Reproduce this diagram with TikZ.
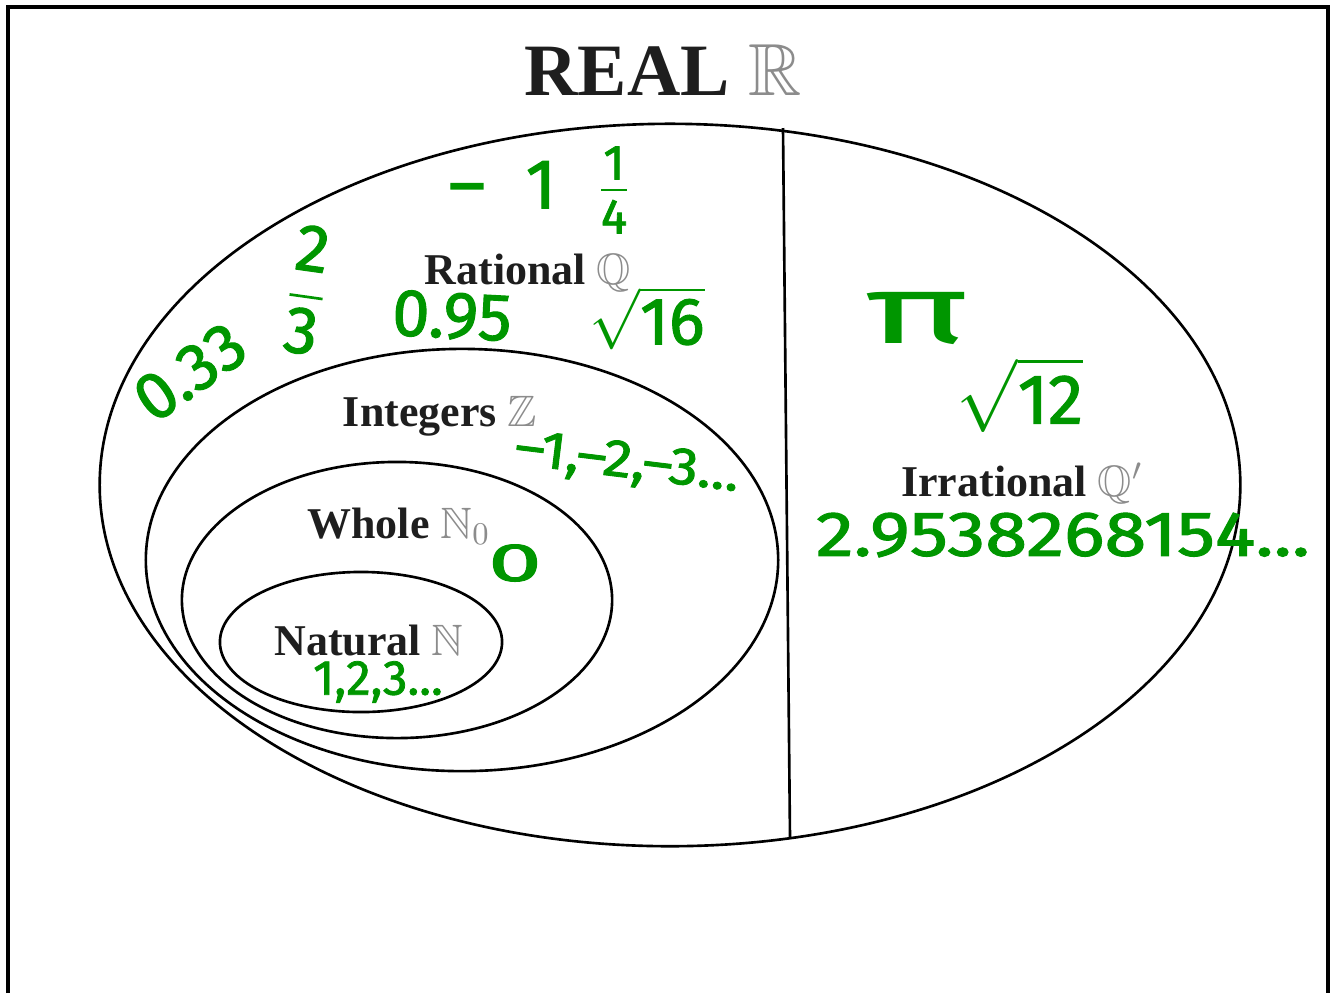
\documentclass[tikz,border=0pt]{standalone}
\usepackage{amsmath,amssymb}
\usepackage{fontspec}
\setmainfont{Liberation Serif}
\newfontfamily\hwfont[FakeBold=1.6]{Fira Sans}
\newfontfamily\hwthin{Fira Sans}
\definecolor{hgreen}{RGB}{0,150,0}
\definecolor{lbl}{RGB}{30,30,30}
\definecolor{sym}{RGB}{140,140,140}
\tikzset{
  setline/.style={draw=black, line width=0.75pt},
  framel/.style={draw=black, line width=0.9pt},
  lab/.style={text=lbl, font=\bfseries\fontsize{12.5}{13}\selectfont, anchor=base, inner sep=0pt},
  hw/.style={text=hgreen, font=\hwfont\fontsize{17}{17}\selectfont, inner sep=0pt},
}
\newcommand{\sy}[1]{\textcolor{sym}{$#1$}}
\begin{document}
\begin{tikzpicture}[x=0.01cm,y=-0.01cm]
\useasboundingbox (0,0) rectangle (1336,993);
% frame
\draw[framel] (8,993) -- (8,7) -- (1328,7) -- (1328,993);
% ellipses
\draw[setline] (670,485) ellipse [x radius=5.70cm, y radius=3.61cm];
\draw[setline] (462,560) ellipse [x radius=3.16cm, y radius=2.11cm];
\draw[setline] (397,600) ellipse [x radius=2.15cm, y radius=1.38cm];
\draw[setline] (361,642) ellipse [x radius=1.41cm, y radius=0.70cm];
% divider
\coordinate (dtop) at (783,128);
\coordinate (dbot) at (790,838);
\draw[setline] (dtop) -- (dbot);
% labels
\node[lab, font=\bfseries\fontsize{21}{22}\selectfont] (real) at (663,95) {REAL \sy{\mathbb{R}}};
\node[lab] (rat) at (528,284) {Rational \sy{\mathbb{Q}}};
\node[lab] (int) at (440,426) {Integers \sy{\mathbb{Z}}};
\node[lab] (who) at (399,538) {Whole \sy{\mathbb{N}_0}};
\node[lab] (nat) at (369,655) {Natural \sy{\mathbb{N}}};
\node[lab] (irr) at (1022,496) {Irrational \sy{\mathbb{Q}'}};
% handwriting
\node[hw, font=\hwfont\fontsize{20}{20}\selectfont] (h1) at (540,190) {$\text{–}\;\;\text{1}\;\;\frac{\text{1}}{\text{4}}$};
\node[hw, font=\hwfont\fontsize{19}{19}\selectfont, rotate=-8] (h2) at (307,290) {$\dfrac{\text{2}}{\text{3}}$};
\node[hw, font=\hwfont\fontsize{19}{19}\selectfont, rotate=35] (h3) at (190,372) {0.33};
\node[hw, font=\hwfont\fontsize{19}{19}\selectfont, rotate=-3] (h4) at (452,316) {0.95};
\node[hw, font=\hwfont\fontsize{19}{19}\selectfont] (h5) at (647,318) {$\sqrt{\text{16}}$};
\node[hw, font=\hwfont\fontsize{15}{15}\selectfont, rotate=-7, xscale=1.1] (h6) at (627,464) {–1,–2,–3...};
\node[hw, xscale=1.6, yscale=0.9] (h7) at (515,563) {0};
\node[hw, font=\hwfont\fontsize{14}{14}\selectfont] (h8) at (378,682) {1,2,3...};
\node[hw, font=\hwthin\fontsize{24}{24}\selectfont, xscale=2.1, yscale=1.15] (h9) at (917,318) {π};
\node[hw, font=\hwfont\fontsize{20}{20}\selectfont] (h10) at (1020,395) {$\sqrt{\text{12}}$};
\node[hw, font=\hwfont\fontsize{18}{18}\selectfont, xscale=1.2] (h11) at (1063,535) {2.9538268154...};
\end{tikzpicture}
\end{document}
